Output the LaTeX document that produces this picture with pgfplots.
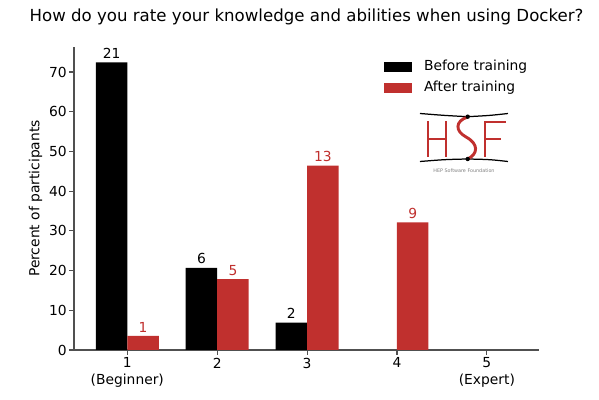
\documentclass[border=0pt]{standalone}
\usepackage{pgfplots}
\pgfplotsset{compat=1.18}
\usepackage{fontspec}
\setmainfont{DejaVu Sans}
\definecolor{hsfred}{RGB}{192,48,46}
\definecolor{spine}{RGB}{80,80,80}
\begin{document}
\begin{tikzpicture}
\path[use as bounding box] (0,0) rectangle (431.28bp,288bp);
\begin{axis}[
  at={(53.28bp,36bp)}, anchor=south west,
  scale only axis, width=334.8bp, height=218.16bp,
  xmin=0.407, xmax=5.58, ymin=0, ymax=76.3,
  axis x line*=bottom, axis y line*=left,
  axis line style={spine, line width=0.8pt},
  tick style={spine, line width=0.8pt},
  tick align=outside, major tick length=3.5bp,
  xtick={1,2,3,4,5},
  xticklabels={{1\\(Beginner)},2,3,4,{5\\(Expert)}},
  xticklabel style={align=center, font=\fontsize{10}{12}\selectfont, inner sep=2pt},
  ytick={0,10,20,30,40,50,60,70},
  yticklabel style={font=\fontsize{10}{12}\selectfont, inner sep=1.5pt},
  /pgf/number format/assume math mode=true,
  ylabel={Percent of participants},
  ylabel style={font=\fontsize{10}{12}\selectfont},
  ybar, bar width=0.35,
  nodes near coords={\pgfplotspointmeta},
  point meta=explicit symbolic,
  every node near coord/.append style={font=\fontsize{10}{12}\selectfont, anchor=south, inner sep=2.5pt},
  legend style={draw=none, fill=none, at={(0.667,0.966)}, anchor=north west,
    font=\fontsize{10}{12}\selectfont, row sep=2bp, inner sep=0pt},
  legend cell align=left,
]
\addplot[fill=black, draw=none, bar shift=-0.175, every node near coord/.append style={text=black},
  legend image code/.code={\fill[black] (0bp,-3.6bp) rectangle (20bp,3.6bp); \path (26.5bp,0bp);}]
  table[meta=n] {
x y n
1 72.41 21
2 20.69 6
3 6.90 2
};
\addlegendentry{Before training}
\addplot[fill=hsfred, draw=none, bar shift=0.175, every node near coord/.append style={text=hsfred},
  legend image code/.code={\fill[hsfred] (0bp,-3.6bp) rectangle (20bp,3.6bp); \path (26.5bp,0bp);}]
  table[meta=n] {
x y n
1 3.57 1
2 17.86 5
3 46.43 13
4 32.14 9
};
\addlegendentry{After training}
\end{axis}
\node[anchor=base, font=\fontsize{12}{14}\selectfont] at (220.68bp,272.16bp)
  {How do you rate your knowledge and abilities when using Docker?};
% HSF logo
\begin{scope}[x=0.72bp, y=-0.72bp, yshift=288bp]
  \draw[black, line width=0.9pt] (420,113.5) .. controls (445,115.5) .. (467.7,116.7) .. controls (490,115.5) .. (508,113.5);
  \draw[black, line width=0.9pt] (420,161.5) .. controls (445,159.5) .. (467.7,159) .. controls (490,159.5) .. (508,161.5);
  \draw[hsfred, line width=2.1bp] (428,121.5) -- (428,157) (446,121.5) -- (446,157) (428,139) -- (446,139);
  \draw[hsfred, line width=2.1bp] (485,157) -- (485,122) -- (506,122) (485,139) -- (501.5,139);
  \draw[hsfred, line width=2.1bp] (467.7,117) .. controls (455,121) and (455,131) .. (466,137)
     .. controls (479,144) and (478,154) .. (467.7,159);
  \fill[black] (467.7,116.7) circle (2.2);
  \fill[black] (467.7,159) circle (2.2);
  \node[text=gray, font=\fontsize{3.5}{4}\selectfont, inner sep=0pt] at (464,170.5) {HEP Software Foundation};
\end{scope}
\end{tikzpicture}
\end{document}
